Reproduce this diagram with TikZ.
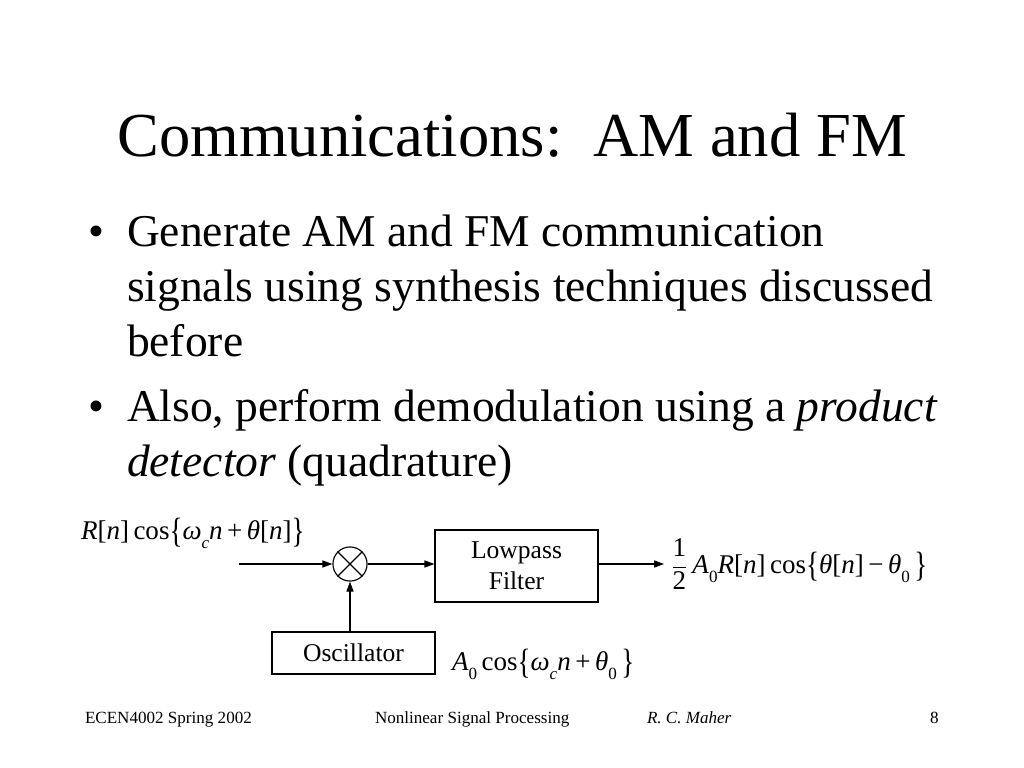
\documentclass[tikz,border=0pt]{standalone}
\usepackage{fontspec}
\usepackage{graphicx}
\setmainfont{Liberation Serif}
\usetikzlibrary{arrows.meta}
\newcommand\mysub[1]{\raisebox{-0.35em}{\fontsize{12}{12}\selectfont #1}}
\newcommand\bigbr[1]{\raisebox{-0.12em}{\scalebox{1}[1.3]{#1}}}
\begin{document}
\begin{tikzpicture}[x=0.703125pt,y=-0.703125pt,
  txt/.style={inner sep=0pt,outer sep=0pt},
  title/.style={txt,font=\fontsize{44}{52}\selectfont},
  body/.style={txt,font=\fontsize{32}{38}\selectfont,anchor=base west},
  foot/.style={txt,font=\fontsize{12}{14}\selectfont,anchor=base west},
  lab/.style={txt,font=\fontsize{19}{23}\selectfont},
  blk/.style={draw,line width=0.8pt,inner sep=0pt,font=\fontsize{18}{22}\selectfont,align=center,minimum width=114.6pt},
  conn/.style={line width=0.8pt,-{Triangle[length=7pt,width=5pt]}}]
\useasboundingbox (0,0) rectangle (1024,768);
% title
\node[title,anchor=base] (t) at (512,157) {Communications:\ \ AM and FM};
% bullets
\node[body] (b1) at (88,247) {•};
\node[body] (l1) at (127,247) {Generate AM and FM communication};
\node[body] (l2) at (127,302) {signals using synthesis techniques discussed};
\node[body] (l3) at (127,356) {before};
\node[body] (b2) at (88,421) {•};
\node[body] (l4) at (127,421) {Also, perform demodulation using a \textit{product}};
\node[body] (l5) at (127,476) {\textit{detector} (quadrature)};
% diagram
\node[draw,circle,line width=0.8pt,minimum size=24pt,inner sep=0pt] (mul) at (350,564) {};
\draw[line width=0.8pt] (mul.45) -- (mul.225) (mul.135) -- (mul.315);
\node[blk,minimum height=50.6pt] (lpf) at (516.5,566) {Lowpass\\Filter};
\node[blk,minimum height=29.5pt] (osc) at (353.5,653) {Oscillator};
\coordinate (in) at (239,564);
\coordinate (out) at (664,564);
\draw[conn] (in) -- (mul.west);
\draw[conn] (mul.east) -- (lpf.west |- mul.east);
\draw[conn] (lpf.east |- mul.east) -- (out);
\draw[conn] (osc.north -| mul.south) -- (mul.south);
% labels
\node[lab,anchor=base west] (inl) at (81,539) {\textit{R}[\textit{n}]\,cos\bigbr{\{}\textit{ω}\mysub{\textit{c}}\textit{n}\,+\,\textit{θ}[\textit{n}]\bigbr{\}}};
\node[lab,anchor=base west] (outl) at (671,573) {$\displaystyle\frac{\hbox{1}}{\hbox{2}}$\,\textit{A}\mysub{0}\textit{R}[\textit{n}]\,cos\bigbr{\{}\textit{θ}[\textit{n}]\,−\,\textit{θ}\mysub{0}\,\bigbr{\}}};
\node[lab,anchor=base west] (oscl) at (452,670) {\textit{A}\mysub{0}\,cos\bigbr{\{}\textit{ω}\mysub{\textit{c}}\textit{n}\,+\,\textit{θ}\mysub{0}\,\bigbr{\}}};
% footer
\node[foot] (f1) at (85,723) {ECEN4002 Spring 2002};
\node[foot] (f2) at (375,723) {Nonlinear Signal Processing};
\node[foot] (f3) at (647,723) {\textit{R. C. Maher}};
\node[foot] (f4) at (930,723) {8};
\end{tikzpicture}
\end{document}
